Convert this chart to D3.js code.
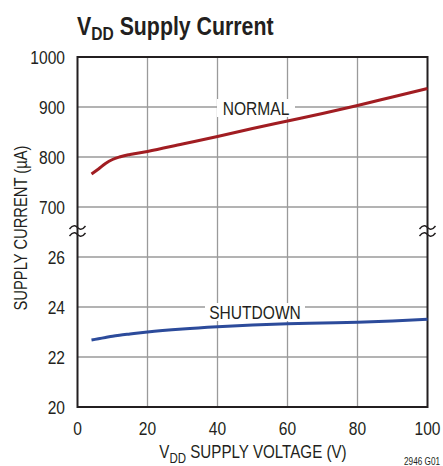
<!DOCTYPE html>
<html>
<head>
<meta charset="utf-8">
<title>VDD Supply Current</title>
<script src="https://d3js.org/d3.v7.min.js"></script>
<style>
  body { margin: 0; background: #fff; }
  text { font-family: "Liberation Sans Narrow", "Liberation Sans", Arial, sans-serif; fill: #231f20; }
</style>
</head>
<body>
<script>
  // data
  var voltage = [4, 6, 8, 10, 12, 15, 20, 30, 40, 50, 60, 70, 80, 90, 100];
  var normalCurrent = [766, 776, 787, 795, 800, 805, 811, 826, 841, 857, 872, 887, 903, 920, 937];
  var shutdownCurrent = [22.68, 22.73, 22.78, 22.83, 22.87, 22.92, 23.0, 23.12, 23.21, 23.28, 23.33, 23.36, 23.39, 23.44, 23.51];
  var xTicks = [0, 20, 40, 60, 80, 100];
  var topTicks = [1000, 900, 800, 700];
  var bottomTicks = [26, 24, 22, 20];

  var plotLeft = 77.5, plotTop = 57, w = 350, h = 350;
  var narrow = 0.82; // horizontal squeeze to mimic a condensed face

  var svg = d3.select("body").append("svg")
              .attr("width", 443)
              .attr("height", 466);

  var x = d3.scaleLinear().domain([0, 100]).range([plotLeft, plotLeft + w]);
  var yTop = d3.scaleLinear().domain([700, 1000]).range([plotTop + 150, plotTop]);
  var yBot = d3.scaleLinear().domain([20, 26]).range([plotTop + h, plotTop + 200]);

  // text helper: squeezed horizontally around its anchor point
  function txt(parent, px, py, size, anchor, str) {
    return parent.append("text")
                 .attr("transform", "translate(" + px + "," + py + ") scale(" + narrow + ",1)")
                 .attr("text-anchor", anchor)
                 .attr("font-size", size)
                 .text(str);
  }

  // grid
  var grid = svg.append("g").attr("stroke", "#9a9a9a").attr("stroke-width", 1.3);
  xTicks.slice(1, -1).forEach(function (t) {
    grid.append("line").attr("x1", x(t)).attr("x2", x(t)).attr("y1", plotTop).attr("y2", plotTop + h);
  });
  topTicks.slice(1).forEach(function (t) {
    grid.append("line").attr("x1", plotLeft).attr("x2", plotLeft + w).attr("y1", yTop(t)).attr("y2", yTop(t));
  });
  bottomTicks.slice(0, -1).forEach(function (t) {
    grid.append("line").attr("x1", plotLeft).attr("x2", plotLeft + w).attr("y1", yBot(t)).attr("y2", yBot(t));
  });

  // frame
  svg.append("rect")
     .attr("x", plotLeft).attr("y", plotTop).attr("width", w).attr("height", h)
     .attr("fill", "none").attr("stroke", "#231f20").attr("stroke-width", 2);

  // axis break marks
  var breakY = plotTop + 174;
  [plotLeft, plotLeft + w].forEach(function (bx) {
    [-3.5, 3.5].forEach(function (dy) {
      var y0 = breakY + dy;
      svg.append("path")
         .attr("d", "M" + (bx - 8) + "," + (y0 + 1.5) +
                    " C" + (bx - 4) + "," + (y0 - 4) + " " + (bx - 1) + "," + (y0 - 1) + " " + bx + "," + y0 +
                    " S" + (bx + 4) + "," + (y0 + 4) + " " + (bx + 8) + "," + (y0 - 1.5))
         .attr("fill", "none").attr("stroke", "#231f20").attr("stroke-width", 1.4);
    });
  });

  // tick labels
  xTicks.forEach(function (d) { txt(svg, x(d), 435, 19, "middle", d); });
  topTicks.forEach(function (d) { txt(svg, 65, yTop(d) + 7, 19, "end", d); });
  bottomTicks.forEach(function (d) { txt(svg, 65, yBot(d) + 7, 19, "end", d); });

  // curves
  var normalPts = voltage.map(function (v, i) { return [v, normalCurrent[i]]; });
  var shutdownPts = voltage.map(function (v, i) { return [v, shutdownCurrent[i]]; });

  svg.append("path")
     .datum(normalPts)
     .attr("fill", "none").attr("stroke", "#a11d22").attr("stroke-width", 3)
     .attr("d", d3.line().curve(d3.curveMonotoneX)
                 .x(function (d) { return x(d[0]); })
                 .y(function (d) { return yTop(d[1]); }));

  svg.append("path")
     .datum(shutdownPts)
     .attr("fill", "none").attr("stroke", "#2c4b9b").attr("stroke-width", 3)
     .attr("d", d3.line().curve(d3.curveMonotoneX)
                 .x(function (d) { return x(d[0]); })
                 .y(function (d) { return yBot(d[1]); }));

  // curve labels with knocked-out background
  function label(str, cx, cy, bw) {
    svg.append("rect").attr("x", cx - bw / 2).attr("y", cy - 9).attr("width", bw).attr("height", 18).attr("fill", "#fff");
    txt(svg, cx, cy + 7, 19, "middle", str);
  }
  label("NORMAL", 256, 108, 78);
  label("SHUTDOWN", 255, 312, 100);

  // title
  var title = txt(svg, 77, 35, 26, "start", null).attr("font-weight", "bold");
  title.append("tspan").text("V");
  title.append("tspan").attr("dy", 5).attr("font-size", 19).text("DD");
  title.append("tspan").attr("dy", -5).text(" Supply Current");

  // axis titles
  var xt = txt(svg, 253, 458, 18.5, "middle", null);
  xt.append("tspan").text("V");
  xt.append("tspan").attr("dy", 5).attr("font-size", 14).text("DD");
  xt.append("tspan").attr("dy", -5).text(" SUPPLY VOLTAGE (V)");

  svg.append("text")
     .attr("transform", "translate(27,228) rotate(-90) scale(" + narrow + ",1)")
     .attr("text-anchor", "middle")
     .attr("font-size", 18)
     .text("SUPPLY CURRENT (\u00b5A)");

  txt(svg, 440, 465, 10, "end", "2946 G01");
</script>
</body>
</html>
